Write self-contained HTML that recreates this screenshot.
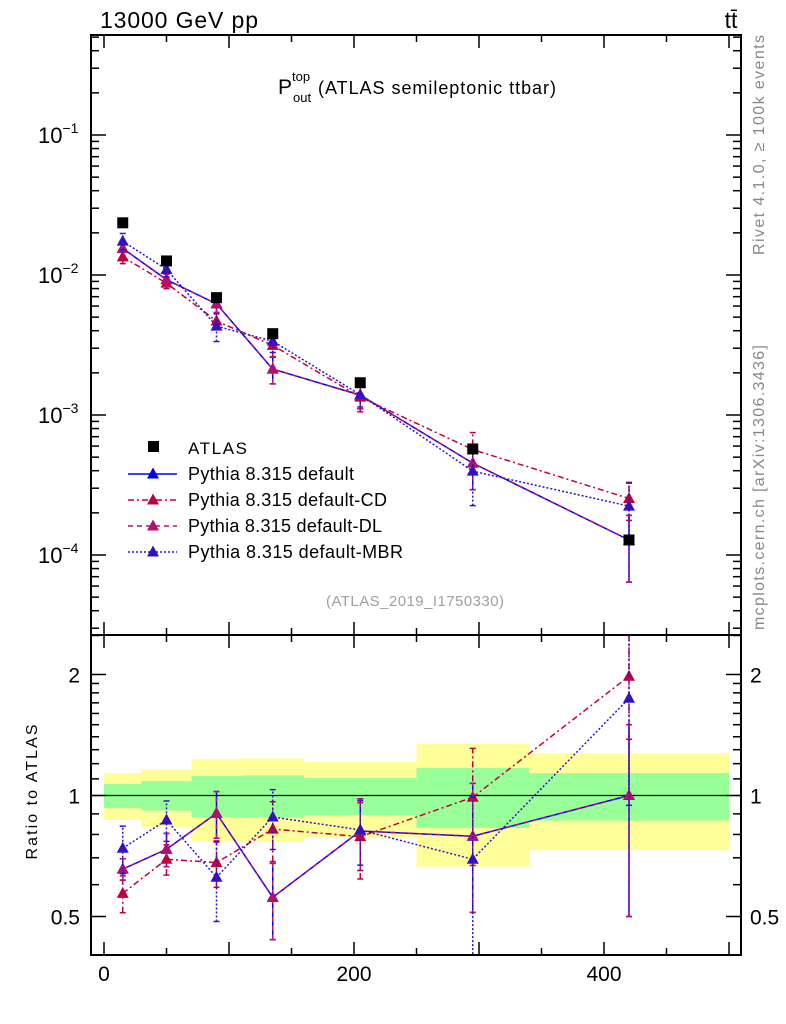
<!DOCTYPE html>
<html><head><meta charset="utf-8"><style>
body{margin:0;background:#fff;width:786px;height:1024px;overflow:hidden}
svg{display:block;font-family:"Liberation Sans",Arial,sans-serif}
</style></head><body>
<svg id="c" width="786" height="1024" xmlns="http://www.w3.org/2000/svg"></svg>
<script>
// ---------- data ----------
const binEdges=[0,30,70,110,160,250,340,500];
const binCenters=[15,50,90,135,205,295,420];
const atlas=[0.0236,0.0126,0.00689,0.00381,0.0017,0.000572,0.000128];
const yellowHi=[1.136,1.164,1.233,1.237,1.211,1.343,1.276];
const yellowLo=[0.869,0.835,0.770,0.766,0.788,0.665,0.731];
const greenHi=[1.068,1.087,1.118,1.122,1.105,1.171,1.137];
const greenLo=[0.931,0.917,0.884,0.881,0.893,0.830,0.866];
const ratioDefault=[0.656,0.735,0.903,0.558,0.816,0.792,1.0];
const errDefault=[0.04,0.07,0.12,0.12,0.165,0.28,0.5];
const ratioCD=[0.571,0.694,0.681,0.825,0.790,0.99,1.98];
const errCD=[0.06,0.06,0.09,0.14,0.17,0.32,0.6];
const ratioDL=[0.656,0.735,0.903,0.558,0.816,0.792,1.0];
const errDL=[0.04,0.07,0.12,0.12,0.165,0.28,0.5];
const ratioMBR=[0.739,0.869,0.626,0.884,0.821,0.694,1.745];
const errMBR=[0.1,0.1,0.14,0.15,0.15,0.3,0.8];
const xTicks=[0,200,400];
// ---------- axes ----------
const L=91,R=741,T=35,M=635,B=955;
const X=v=>104+1.25*v;
const Ym=v=>275-140*(Math.log10(v)+2);
const Yr=v=>795.5-402*Math.log10(v);
const NS='http://www.w3.org/2000/svg';
const svg=document.getElementById('c');
function mk(tag,attrs,parent){const e=document.createElementNS(NS,tag);for(const k in attrs)e.setAttribute(k,attrs[k]);(parent||svg).appendChild(e);return e;}
function txt(s,attrs,parent){const e=mk('text',attrs,parent);e.textContent=s;return e;}

const defs=mk('defs',{});
const c1=mk('clipPath',{id:'cm'},defs);mk('rect',{x:L,y:T,width:R-L,height:M-T},c1);
const c2=mk('clipPath',{id:'cr'},defs);mk('rect',{x:L,y:M,width:R-L,height:B-M},c2);

const bands=mk('g',{'clip-path':'url(#cr)'});


for(let i=0;i<binCenters.length;i++){
  const x0=X(binEdges[i]),x1=X(binEdges[i+1]);
  const y=mk('rect',{x:x0,y:Yr(yellowHi[i]),width:x1-x0,height:Yr(yellowLo[i])-Yr(yellowHi[i]),fill:'#ffff99'},bands);
  
  
  const g=mk('rect',{x:x0,y:Yr(greenHi[i]),width:x1-x0,height:Yr(greenLo[i])-Yr(greenHi[i]),fill:'#99ff99'},bands);
  
  
}
mk('line',{x1:L,x2:R,y1:Yr(1),y2:Yr(1),stroke:'#000','stroke-width':1.2});

mk('rect',{x:L,y:T,width:R-L,height:M-T,fill:'none',stroke:'#000','stroke-width':2});
mk('rect',{x:L,y:M,width:R-L,height:B-M,fill:'none',stroke:'#000','stroke-width':2});

for(let v=0;v<=500;v+=50){
  const major=v%100===0,len=major?13:7,x=X(v);
  [[T,1],[M,-1],[M,1],[B,-1]].forEach(([y0,d])=>mk('line',{x1:x,x2:x,y1:y0,y2:y0+d*len,stroke:'#000','stroke-width':1.5}));
}
xTicks.forEach(v=>{const t=txt(String(v),{x:X(v),y:981,'font-size':21,'text-anchor':'middle'});
  });

for(let e=-5;e<=0;e++)for(let m=1;m<=9;m++){
  const v=m*Math.pow(10,e);const y=Ym(v);if(y<T||y>M)continue;
  const len=m===1?15:8;
  mk('line',{x1:L,x2:L+len,y1:y,y2:y,stroke:'#000','stroke-width':1.5});
  mk('line',{x1:R,x2:R-len,y1:y,y2:y,stroke:'#000','stroke-width':1.5});
}
[-1,-2,-3,-4].forEach(e=>{
  const t=mk('text',{x:38,y:Ym(Math.pow(10,e))+8,'font-size':22});
  
  t.textContent='10';
  const s=mk('tspan',{dy:-10,'font-size':14},t);s.textContent='\u2212'+String(-e);
});
const rt=[0.4,0.5,0.6,0.7,0.8,0.9,1,1.1,1.2,1.3,1.4,1.5,1.6,1.7,1.8,1.9,2,2.5];
rt.forEach(v=>{const y=Yr(v);if(y<M||y>B)return;const major=(v===0.5||v===1||v===2);const len=major?15:8;
  mk('line',{x1:L,x2:L+len,y1:y,y2:y,stroke:'#000','stroke-width':1.5});
  mk('line',{x1:R,x2:R-len,y1:y,y2:y,stroke:'#000','stroke-width':1.5});});
[[2,'2'],[1,'1'],[0.5,'0.5']].forEach(([v,s])=>{
  const a=txt(s,{x:80,y:Yr(v)+8,'font-size':21,'text-anchor':'end'});
  
  const b=txt(s,{x:750,y:Yr(v)+8,'font-size':21});
  });

const series=[
 {name:'default',r:ratioDefault,e:errDefault,col:'#0000ff',mcol:'#0000e0',dash:''},
 {name:'default-cd',r:ratioCD,e:errCD,col:'#c0003c',mcol:'#c0003c',dash:'6,3,2,3'},
 {name:'default-dl',r:ratioDL,e:errDL,col:'#b4107a',mcol:'#b0106e',dash:'5,4'},
 {name:'default-mbr',r:ratioMBR,e:errMBR,col:'#3310cc',mcol:'#3310c0',dash:'2,2'}
];
function tri(g,x,y,col){mk('path',{d:`M${x},${y-6.5}L${x+6},${y+4.5}L${x-6},${y+4.5}Z`,fill:col},g);}
series.forEach(s=>{
  ['main','ratio'].forEach(panel=>{
    const g=mk('g',{'clip-path':panel==='main'?'url(#cm)':'url(#cr)'});
    
    
    const val=i=>panel==='main'?atlas[i]*s.r[i]:s.r[i];
    const lo=i=>panel==='main'?atlas[i]*Math.max(s.r[i]-s.e[i],0.01):Math.max(s.r[i]-s.e[i],0.01);
    const hi=i=>panel==='main'?atlas[i]*(s.r[i]+s.e[i]):s.r[i]+s.e[i];
    const Y=panel==='main'?Ym:Yr;
    let d='';
    for(let i=0;i<binCenters.length;i++){d+=(i?'L':'M')+X(binCenters[i])+','+Y(val(i));}
    mk('path',{d,fill:'none',stroke:s.col,'stroke-width':1.5,'stroke-dasharray':s.dash},g);
    for(let i=0;i<binCenters.length;i++){
      const x=X(binCenters[i]);
      mk('line',{x1:x,x2:x,y1:Y(lo(i)),y2:Y(hi(i)),stroke:s.col,'stroke-width':1.5,'stroke-dasharray':s.dash},g);
      mk('line',{x1:x-3,x2:x+3,y1:Y(lo(i)),y2:Y(lo(i)),stroke:s.col,'stroke-width':1.5},g);
      mk('line',{x1:x-3,x2:x+3,y1:Y(hi(i)),y2:Y(hi(i)),stroke:s.col,'stroke-width':1.5},g);
      tri(g,x,Y(val(i)),s.mcol);
    }
  });
});
const ga=mk('g',{});


atlas.forEach((v,i)=>{mk('rect',{x:X(binCenters[i])-5.5,y:Ym(v)-5.5,width:11,height:11,fill:'#000'},ga);});

const lg=mk('g',{});


mk('rect',{x:148,y:441,width:11,height:11,fill:'#000'},lg);
txt('ATLAS',{x:188,y:454,'font-size':17,textLength:59},lg);
const names=['default','default-CD','default-DL','default-MBR'];
const lens=[166,199,194,215];
series.forEach((s,k)=>{const y=474+k*26;
  mk('line',{x1:128,x2:177,y1:y,y2:y,stroke:s.col,'stroke-width':1.5,'stroke-dasharray':s.dash},lg);
  tri(lg,153,y,s.mcol);
  const t=txt('Pythia 8.315 '+names[k],{x:188,y:y+6,'font-size':18,textLength:lens[k]},lg);
  });

let t=txt('13000 GeV pp',{x:100,y:28,'font-size':23,textLength:158});
t=txt('tt\u0304',{x:731,y:28,'font-size':23,'text-anchor':'middle'});
t=mk('text',{x:278,y:94,'font-size':21});
t.innerHTML='P<tspan dy="-13" font-size="13">top</tspan><tspan x="293" dy="21" font-size="13">out</tspan><tspan x="318" dy="-8" font-size="18" textLength="238">(ATLAS semileptonic ttbar)</tspan>';
t=txt('(ATLAS_2019_I1750330)',{x:326,y:606,'font-size':15,fill:'#a0a0a0',textLength:178});
t=txt('Ratio to ATLAS',{x:0,y:0,'font-size':16,'text-anchor':'middle',textLength:135,transform:'translate(37,792) rotate(-90)'});
t=txt('Rivet 4.1.0, \u2265 100k events',{x:-255,y:0,'font-size':16,fill:'#888',textLength:220,transform:'translate(764,0) rotate(-90)'});
t=txt('mcplots.cern.ch [arXiv:1306.3436]',{x:-630,y:0,'font-size':16,fill:'#888',textLength:285,transform:'translate(764,0) rotate(-90)'});
</script>
</body></html>
